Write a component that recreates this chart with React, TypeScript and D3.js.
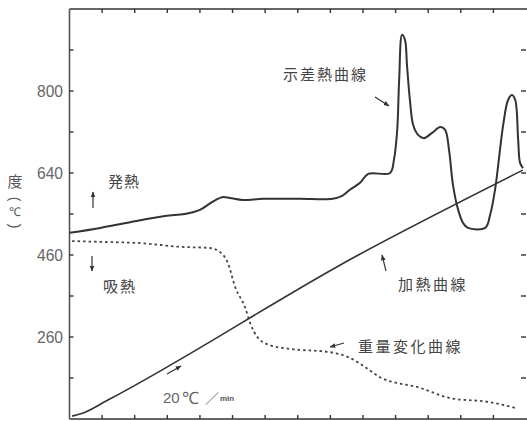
import React from "react";
import * as d3 from "d3";

// Grid units: x 0..14 (tick intervals), y 0..10 (tick intervals)
const dtaX = [0, 0.94, 1.86, 2.93, 3.54, 4.0, 4.37, 4.68, 4.92, 5.32, 5.94, 7.07, 8.08, 8.36, 8.6, 8.91, 9.16, 9.83, 9.95, 10.05, 10.11, 10.2, 10.29, 10.35, 10.44, 10.54, 10.69, 10.87, 11.12, 11.37, 11.52, 11.64, 11.76, 11.92, 12.07, 12.22, 12.75, 12.9, 13.05, 13.3, 13.45, 13.57, 13.67, 13.76, 13.82, 13.91];
const dtaY = [4.54, 4.66, 4.8, 4.95, 5.0, 5.1, 5.29, 5.41, 5.39, 5.34, 5.37, 5.37, 5.37, 5.44, 5.59, 5.76, 5.98, 6.0, 6.32, 7.05, 8.27, 9.37, 9.24, 8.63, 7.78, 7.17, 6.93, 6.85, 6.98, 7.12, 7.05, 6.56, 5.71, 5.1, 4.78, 4.66, 4.66, 4.98, 5.59, 7.17, 7.78, 7.9, 7.78, 6.8, 6.24, 6.12];

const heatX = [0.08, 0.4, 1.15, 8.9, 13.9];
const heatY = [0.07, 0.14, 0.45, 4.02, 6.07];

const weightX = [0.08, 0.94, 2.16, 3.39, 4.31, 4.62, 4.86, 5.08, 5.38, 5.54, 5.78, 6.15, 6.76, 7.99, 8.6, 9.06, 9.52, 10.75, 11.67, 12.9, 13.67];
const weightY = [4.34, 4.32, 4.29, 4.2, 4.17, 4.07, 3.8, 3.22, 2.73, 2.34, 1.98, 1.8, 1.71, 1.63, 1.49, 1.27, 1.02, 0.76, 0.51, 0.41, 0.27];

const yTickLabels = ["260", "460", "640", "800"];
const yTickGrid = [2, 4, 6, 8];
const xTickGrid = d3.range(1, 14);
const yTickAll = d3.range(1, 10);

const W = 527;
const H = 421;

export default function App() {
  const x = d3.scaleLinear().domain([0, 14]).range([69.5, 526]);
  const y = d3.scaleLinear().domain([0, 10]).range([419, 9]);

  const zip = (xs: number[], ys: number[]) => xs.map((v, i) => [v, ys[i]] as [number, number]);

  const dtaLine = d3
    .line<[number, number]>()
    .x((d) => x(d[0]))
    .y((d) => y(d[1]))
    .curve(d3.curveCatmullRom.alpha(0.5));
  const smoothLine = d3
    .line<[number, number]>()
    .x((d) => x(d[0]))
    .y((d) => y(d[1]))
    .curve(d3.curveMonotoneX);

  const ink = "#333";
  const cjk = "'Noto Sans CJK JP', 'Noto Sans', sans-serif";

  const arrows: [number, number, number, number][] = [
    [375, 97, 389, 106],
    [386, 271, 382, 255],
    [344, 343, 330, 347],
    [167, 374, 181, 366],
    [93, 208, 93, 192],
    [92, 256, 92, 271],
  ];

  return (
    <svg
      width={W}
      height={H}
      viewBox={`0 0 ${W} ${H}`}
      style={{ position: "absolute", left: 0, top: 0, background: "#fff" }}
    >
      <defs>
        <marker id="ah" viewBox="0 0 10 10" refX="9" refY="5" markerWidth="5" markerHeight="5" orient="auto">
          <path d="M0,1 L10,5 L0,9 z" fill={ink} />
        </marker>
      </defs>
      <rect width={W} height={H} fill="#fff" />

      {/* frame */}
      <line x1={x(0)} x2={W} y1={y(10)} y2={y(10)} stroke={ink} strokeWidth={1.6} />
      <line x1={x(0)} x2={W} y1={y(0)} y2={y(0)} stroke={ink} strokeWidth={1.6} />
      <line x1={x(0)} x2={x(0)} y1={y(10)} y2={y(0)} stroke="#555" strokeWidth={1.6} />

      {xTickGrid.map((t) => (
        <g key={"xt" + t}>
          <line x1={x(t)} x2={x(t)} y1={y(10)} y2={y(10) + 4} stroke={ink} strokeWidth={1.4} />
          <line x1={x(t)} x2={x(t)} y1={y(0)} y2={y(0) - 4} stroke={ink} strokeWidth={1.4} />
        </g>
      ))}
      {yTickAll.map((t) => (
        <g key={"yt" + t}>
          <line x1={x(0)} x2={x(0) + 4} y1={y(t)} y2={y(t)} stroke={ink} strokeWidth={1.4} />
          <line x1={x(14) - 5} x2={x(14)} y1={y(t)} y2={y(t)} stroke={ink} strokeWidth={1.4} />
        </g>
      ))}
      {yTickLabels.map((l, i) => (
        <text
          key={"yl" + l}
          x={63}
          y={y(yTickGrid[i])}
          dy="0.36em"
          textAnchor="end"
          fontFamily="'Liberation Sans', Arial, sans-serif"
          fontSize={17}
          textLength={26}
          lengthAdjust="spacingAndGlyphs"
          fill="#666"
        >
          {l}
        </text>
      ))}

      {/* y axis title */}
      <text x={15} y={182} dy="0.36em" textAnchor="middle" fontFamily={cjk} fontSize={15} fill="#555">度</text>
      <text
        x={0}
        y={0}
        textAnchor="middle"
        dominantBaseline="central"
        fontFamily="'Liberation Sans', sans-serif"
        fontSize={14}
        fill="#555"
        transform="translate(15,199) rotate(90)"
      >
        (
      </text>
      <text x={15} y={212} dy="0.36em" textAnchor="middle" fontFamily="'Liberation Sans', sans-serif" fontSize={12} fill="#555">℃</text>
      <text
        x={0}
        y={0}
        textAnchor="middle"
        dominantBaseline="central"
        fontFamily="'Liberation Sans', sans-serif"
        fontSize={14}
        fill="#555"
        transform="translate(15,226) rotate(90)"
      >
        )
      </text>

      {/* curves */}
      <path d={smoothLine(zip(heatX, heatY)) || ""} fill="none" stroke={ink} strokeWidth={1.6} />
      <path
        d={smoothLine(zip(weightX, weightY)) || ""}
        fill="none"
        stroke="#444"
        strokeWidth={1.8}
        strokeDasharray="2.5,3"
      />
      <path d={dtaLine(zip(dtaX, dtaY)) || ""} fill="none" stroke={ink} strokeWidth={2} strokeLinejoin="round" />

      {/* annotation arrows */}
      {arrows.map((a, i) => (
        <line key={"ar" + i} x1={a[0]} y1={a[1]} x2={a[2]} y2={a[3]} stroke={ink} strokeWidth={1.2} markerEnd="url(#ah)" />
      ))}

      {/* labels */}
      <text x={283} y={75} dy="0.36em" fontFamily={cjk} fontSize={15} letterSpacing={2} fill="#444">示差熱曲線</text>
      <text x={108} y={182} dy="0.36em" fontFamily={cjk} fontSize={15} letterSpacing={1} fill="#444">発熱</text>
      <text x={103} y={287} dy="0.36em" fontFamily={cjk} fontSize={15} letterSpacing={2} fill="#444">吸熱</text>
      <text x={398} y={285} dy="0.36em" fontFamily={cjk} fontSize={15} letterSpacing={2.5} fill="#444">加熱曲線</text>
      <text x={358} y={347} dy="0.36em" fontFamily={cjk} fontSize={15} letterSpacing={2.5} fill="#444">重量変化曲線</text>
      <text x={163} y={398} dy="0.36em" fontFamily="'Liberation Sans', sans-serif" fontSize={15} fill="#666">
        20
      </text>
      <text x={182} y={398} dy="0.36em" fontFamily="'Liberation Sans', sans-serif" fontSize={17} fill="#666">℃</text>
      <text x={205} y={398} dy="0.36em" fontFamily={cjk} fontSize={14} fill="#777">／</text>
      <text x={220} y={398} dy="0.36em" fontFamily="'Liberation Sans', sans-serif" fontSize={8} fontWeight="bold" fill="#555">min</text>
    </svg>
  );
}
